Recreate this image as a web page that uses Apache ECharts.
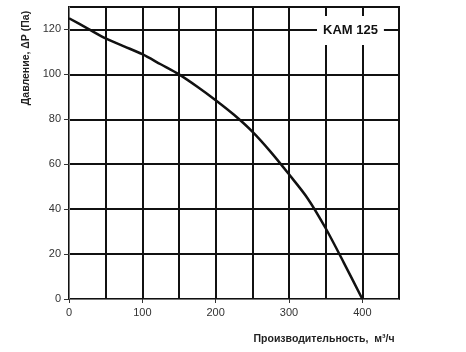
<!DOCTYPE html>
<html>
<head>
<meta charset="utf-8">
<script src="https://cdn.jsdelivr.net/npm/echarts@6/dist/echarts.min.js"></script>
<style>
  html, body { margin: 0; padding: 0; background: #fff; }
  #chart { width: 466px; height: 352px; }
</style>
</head>
<body>
<div id="chart"></div>
<script>
// 数据
let flowValues     = [0, 25, 50, 75, 100, 125, 150, 175, 200, 225, 250, 275, 300, 325, 350, 375, 400];   // 风量 м³/ч
let pressureValues = [125, 120.5, 116, 112.5, 109, 104.5, 100, 94.5, 88.5, 82, 74.5, 65.5, 55.5, 45, 31.5, 16, 0]; // 压力 Па
let xTickLabels    = [0, 100, 200, 300, 400];
let yTickLabels    = [0, 20, 40, 60, 80, 100, 120];
let modelName      = "KAM 125";

// 生成曲线数据
let curveData = flowValues.map((x, i) => [x, pressureValues[i]]);

let chart = echarts.init(document.getElementById('chart'));
let fontFamily = '"Liberation Sans", Arial, sans-serif';
let gridLine = { show: true, lineStyle: { color: '#111', width: 2 } };

let option = {
    animation: false,
    backgroundColor: '#fff',
    grid: { left: 69, right: 67, top: 7, bottom: 53, containLabel: false,
            show: true, borderColor: '#111', borderWidth: 2 },
    xAxis: [{
        // 网格线
        type: 'value',
        min: 0, max: 450, interval: 50,
        axisLine: { show: false },
        axisTick: { show: false },
        axisLabel: { show: false },
        splitLine: gridLine
    }, {
        // 刻度与标签
        type: 'value',
        position: 'bottom',
        min: 0, max: 450, interval: 50,
        name: 'Производительность,  м³/ч',
        nameLocation: 'middle',
        nameGap: 35,
        nameTextStyle: { fontFamily: fontFamily, fontWeight: 'bold', fontSize: 10.5, color: '#222', padding: [0, 0, 0, 180] },
        axisLine: { show: true, lineStyle: { color: '#777', width: 1 } },
        axisTick: { show: true, customValues: xTickLabels, length: 4, lineStyle: { color: '#333', width: 1 } },
        axisLabel: { customValues: xTickLabels, fontFamily: fontFamily, fontSize: 11, color: '#333', margin: 8 },
        splitLine: { show: false }
    }],
    yAxis: [{
        type: 'value',
        min: 0, max: 130, interval: 10,
        axisLine: { show: false },
        axisTick: { show: false },
        axisLabel: { show: false },
        splitLine: { show: false }
    }, {
        type: 'value',
        position: 'left',
        min: 0, max: 130, interval: 20,
        name: 'Давление, ΔP (Па)',
        nameLocation: 'middle',
        nameRotate: 90,
        nameGap: 30,
        nameTextStyle: { fontFamily: fontFamily, fontWeight: 'bold', fontSize: 10.5, color: '#222', padding: [0, 0, 0, 190] },
        axisLine: { show: true, lineStyle: { color: '#777', width: 1 } },
        axisTick: { show: true, customValues: yTickLabels, length: 5, lineStyle: { color: '#333', width: 1 } },
        axisLabel: { customValues: yTickLabels, fontFamily: fontFamily, fontSize: 11, color: '#333', margin: 8 },
        splitLine: { show: true, customValues: yTickLabels, lineStyle: { color: '#111', width: 2 } }
    }],
    series: [{
        type: 'line',
        xAxisIndex: 0,
        yAxisIndex: 0,
        data: curveData,
        smooth: 0.3,
        showSymbol: false,
        lineStyle: { color: '#111', width: 2.5 },
        z: 5
    }],
    graphic: [{
        type: 'text',
        left: 317,
        top: 16,
        z: 10,
        style: {
            text: modelName,
            fontFamily: fontFamily,
            fontWeight: 'bold',
            fontSize: 13,
            fill: '#111',
            backgroundColor: '#fff',
            padding: [8, 6, 8, 6]
        }
    }]
};
chart.setOption(option);
</script>
</body>
</html>
